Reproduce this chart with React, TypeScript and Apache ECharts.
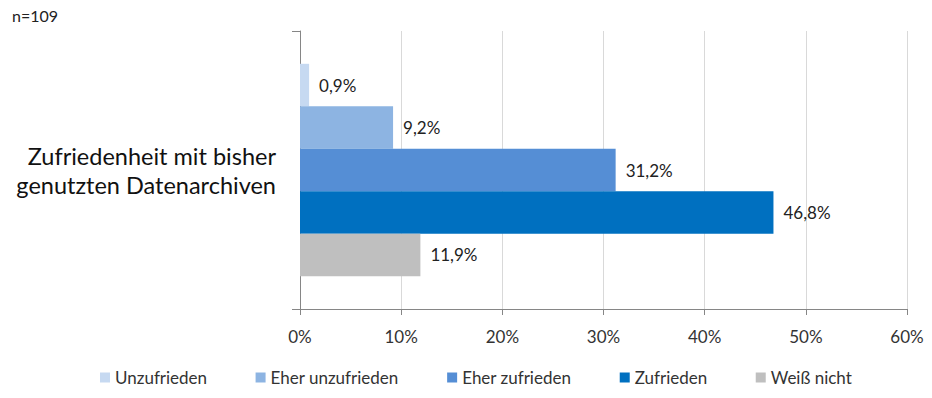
import React, { useEffect, useRef } from "react";
import * as echarts from "echarts";

const categories = ["Zufriedenheit mit bisher\ngenutzten Datenarchiven"];
const seriesNames = ["Unzufrieden", "Eher unzufrieden", "Eher zufrieden", "Zufrieden", "Weiß nicht"];
const seriesValues = [0.9, 9.2, 31.2, 46.8, 11.9];
const seriesColors = ["#C6D9F1", "#8DB4E2", "#558ED5", "#0070C0", "#BFBFBF"];
const xTicks = [0, 10, 20, 30, 40, 50, 60];

const FONT = "Lato, 'Noto Sans', sans-serif";

export default function App() {
  const ref = useRef<HTMLDivElement>(null);
  useEffect(() => {
    if (!ref.current) return;
    const chart = echarts.init(ref.current, null, { renderer: "svg" });
    chart.setOption({
      animation: false,
      textStyle: { fontFamily: FONT },
      graphic: [
        {
          type: "text",
          left: 12,
          top: 7,
          style: { text: "n=109", fontSize: 16, fill: "#222", fontFamily: FONT },
        },
      ],
      legend: {
        bottom: 7,
        left: 95,
        itemWidth: 10,
        itemHeight: 10,
        itemGap: 48.5,
        icon: "rect",
        textStyle: { fontSize: 17, color: "#333", fontFamily: FONT },
        data: seriesNames,
      },
      grid: { left: 300, right: 25, top: 31, bottom: 89, containLabel: false },
      xAxis: {
        type: "value",
        min: xTicks[0],
        max: xTicks[xTicks.length - 1],
        interval: 10,
        axisLine: { show: true, lineStyle: { color: "#868686" } },
        axisTick: { show: true, length: 6, lineStyle: { color: "#868686" } },
        splitLine: { show: true, lineStyle: { color: "#D9D9D9" } },
        axisLabel: {
          formatter: (v: number) => `${v}%`,
          fontSize: 17,
          color: "#333",
          margin: 19,
          fontFamily: FONT,
        },
      },
      yAxis: {
        type: "category",
        data: categories,
        inverse: true,
        axisLine: { show: true, lineStyle: { color: "#868686" } },
        axisTick: { show: true, length: 8, lineStyle: { color: "#868686" } },
        axisLabel: {
          fontSize: 23.5,
          color: "#111",
          margin: 24,
          lineHeight: 29,
          align: "right",
          fontFamily: FONT,
        },
      },
      series: seriesNames.map((name, i) => ({
        name,
        type: "bar",
        data: [seriesValues[i]],
        barGap: "0%",
        barCategoryGap: "23.6%",
        itemStyle: { color: seriesColors[i] },
        label: {
          show: true,
          position: "right",
          distance: 10,
          fontSize: 17,
          color: "#222",
          fontFamily: FONT,
          formatter: (p: any) => `${String(p.value).replace(".", ",")}%`,
        },
      })),
    });
    return () => chart.dispose();
  }, []);
  return (
    <div
      ref={ref}
      style={{ position: "fixed", left: 0, top: 0, width: 932, height: 398, background: "#fff" }}
    />
  );
}
